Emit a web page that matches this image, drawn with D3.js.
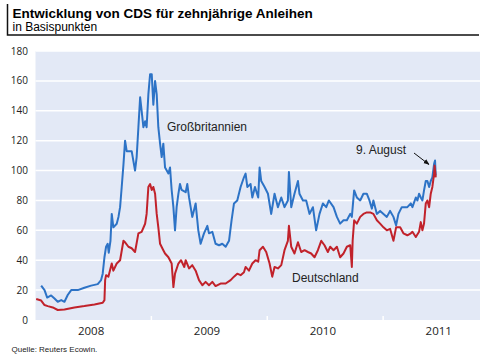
<!DOCTYPE html>
<html>
<head>
<meta charset="utf-8">
<style>
    body { margin: 0; background: #fff; }
    svg { display: block; }
    .title { font-family: 'Liberation Sans', Arial, sans-serif; font-weight: bold; font-size: 13.5px; fill: #000; }
    .subtitle { font-family: 'Liberation Sans', Arial, sans-serif; font-size: 12px; fill: #000; }
    .tick-label { font-family: 'Open Sans', sans-serif; font-size: 10px; fill: #222; }
    .year-label { font-family: 'Open Sans', sans-serif; font-size: 11.5px; fill: #222; }
    .note { font-family: 'Liberation Sans', Arial, sans-serif; font-size: 12px; fill: #222; }
    .source { font-family: 'Liberation Sans', Arial, sans-serif; font-size: 8px; fill: #222; }
</style>
</head>
<body>
<svg width="486" height="354"></svg>

<script src="https://d3js.org/d3.v7.min.js"></script>
<script>

// Großbritannien, decimal years and basis points
let gbYears = [2008.049, 2008.078, 2008.101, 2008.135, 2008.164, 2008.192, 2008.222, 2008.250, 2008.278, 2008.308,
    2008.365, 2008.422, 2008.480, 2008.537, 2008.566, 2008.580, 2008.595, 2008.609, 2008.623, 2008.632,
    2008.647, 2008.658, 2008.672, 2008.701, 2008.716, 2008.730, 2008.744, 2008.759, 2008.773, 2008.787,
    2008.830, 2008.859, 2008.873, 2008.888, 2008.903, 2008.916, 2008.931, 2008.946, 2008.959, 2008.974,
    2008.989, 2009.003, 2009.017, 2009.032, 2009.046, 2009.060, 2009.075, 2009.089, 2009.103, 2009.118,
    2009.147, 2009.161, 2009.175, 2009.190, 2009.204, 2009.218, 2009.233, 2009.247, 2009.261, 2009.296,
    2009.310, 2009.325, 2009.353, 2009.382, 2009.405, 2009.425, 2009.454, 2009.483, 2009.497, 2009.526,
    2009.554, 2009.584, 2009.612, 2009.641, 2009.670, 2009.692, 2009.713, 2009.741, 2009.770, 2009.799,
    2009.813, 2009.828, 2009.856, 2009.871, 2009.894, 2009.922, 2009.934, 2009.948, 2009.977, 2010.006,
    2010.034, 2010.063, 2010.092, 2010.121, 2010.149, 2010.178, 2010.187, 2010.207, 2010.235, 2010.265,
    2010.278, 2010.308, 2010.336, 2010.365, 2010.394, 2010.422, 2010.451, 2010.480, 2010.509, 2010.532,
    2010.572, 2010.601, 2010.629, 2010.658, 2010.687, 2010.716, 2010.730, 2010.750, 2010.773, 2010.802,
    2010.830, 2010.859, 2010.882, 2010.903, 2010.916, 2010.946, 2010.974, 2011.003, 2011.032, 2011.060,
    2011.089, 2011.112, 2011.132, 2011.161, 2011.209, 2011.239, 2011.253, 2011.282, 2011.296, 2011.310,
    2011.325, 2011.339, 2011.353, 2011.368, 2011.382, 2011.397, 2011.411, 2011.425, 2011.440, 2011.448,
    2011.454];
let gbValues = [23, 20, 15, 16.4, 14.4, 12.2, 13.3, 12.2, 16.7, 20,
    20, 21.6, 23, 24, 26.7, 31, 42, 49, 51, 45,
    53, 71, 62, 64.4, 69, 75.5, 89, 104, 120, 113,
    113, 100, 109, 129, 149, 140, 129, 133, 129, 151,
    164.5, 164.5, 144, 160, 151, 129, 118, 109, 118, 102,
    98, 102, 87, 75.5, 60, 75.5, 84.4, 91, 87, 85.5,
    91, 82, 69, 78, 60, 51, 58, 63, 58, 59,
    51, 50, 51, 49, 53, 66.7, 78, 80, 89, 95.5,
    98, 89, 91, 82, 89, 82, 102, 93, 89, 84.5,
    71, 84.5, 75.5, 82, 75.5, 80, 99, 75.5, 84.5, 93,
    84.5, 80, 80, 71, 75.5, 60, 71, 78, 75.5, 80,
    75.5, 69, 64.5, 66.7, 66.7, 71, 69, 86.7, 82, 80,
    84.5, 84.5, 80, 74.5, 80, 71, 73, 71, 69, 73,
    69, 63.3, 71, 75.5, 75.5, 78, 75.5, 82, 80, 84.5,
    82, 80, 86.7, 93, 93, 89, 93, 95.5, 104.5, 106.7,
    96.7];

// Deutschland
let deYears = [2008.006, 2008.049, 2008.078, 2008.106, 2008.149, 2008.192, 2008.250, 2008.336, 2008.422, 2008.509,
    2008.580, 2008.595, 2008.601, 2008.609, 2008.629, 2008.658, 2008.672, 2008.701, 2008.730, 2008.759,
    2008.773, 2008.802, 2008.830, 2008.859, 2008.888, 2008.916, 2008.946, 2008.959, 2008.974, 2008.989,
    2009.003, 2009.017, 2009.032, 2009.046, 2009.060, 2009.075, 2009.103, 2009.118, 2009.147, 2009.175,
    2009.190, 2009.204, 2009.233, 2009.256, 2009.284, 2009.296, 2009.325, 2009.353, 2009.382, 2009.411,
    2009.440, 2009.468, 2009.497, 2009.526, 2009.554, 2009.597, 2009.641, 2009.684, 2009.713, 2009.741,
    2009.770, 2009.799, 2009.813, 2009.842, 2009.871, 2009.899, 2009.922, 2009.934, 2009.963, 2009.991,
    2010.020, 2010.043, 2010.063, 2010.092, 2010.121, 2010.149, 2010.178, 2010.187, 2010.207, 2010.235,
    2010.265, 2010.293, 2010.322, 2010.351, 2010.379, 2010.408, 2010.437, 2010.466, 2010.494, 2010.523,
    2010.543, 2010.572, 2010.601, 2010.629, 2010.658, 2010.687, 2010.716, 2010.730, 2010.737, 2010.750,
    2010.773, 2010.802, 2010.830, 2010.859, 2010.888, 2010.916, 2010.946, 2010.974, 2011.003, 2011.032,
    2011.060, 2011.089, 2011.112, 2011.147, 2011.175, 2011.209, 2011.239, 2011.253, 2011.282, 2011.310,
    2011.325, 2011.339, 2011.353, 2011.368, 2011.382, 2011.397, 2011.411, 2011.425, 2011.440, 2011.444,
    2011.454];
let deValues = [14, 13, 10, 9.3, 8.4, 6.7, 7, 8.4, 9.3, 10.4,
    11.5, 13.3, 26.7, 30, 29, 37.8, 33, 37.8, 40, 53,
    52, 49, 48, 45.5, 58, 59, 64.4, 71, 89, 91,
    87, 89, 84.5, 71, 62, 51, 46.7, 44.5, 42, 37.8,
    22, 31, 37.8, 40, 35.5, 40, 34.5, 36.7, 33, 26.7,
    23.3, 25.5, 23.3, 25.5, 22.7, 24.4, 24.4, 26.7, 29, 31,
    30, 32, 35.5, 33, 37.8, 40, 39, 46.7, 49, 45.5,
    37.8, 29, 35.5, 34.5, 36.7, 46.7, 53, 63, 49, 44.5,
    52, 45.5, 46.7, 45.5, 44.5, 42, 46.7, 53, 50, 45.5,
    49, 46.7, 49, 42, 44.5, 49, 50, 35.5, 53, 66.7,
    64.5, 69, 71, 72, 72, 71, 66.7, 64.5, 62, 60,
    61, 53, 62, 62, 58, 56.7, 58, 59, 55.5, 59,
    65.5, 60, 64.5, 78, 80, 75.5, 84.5, 89, 98, 103.3,
    95.5];

let yTicks = [0, 20, 40, 60, 80, 100, 120, 140, 160, 180];
let yearTicks = [2009, 2010, 2011];
let yearLabels = ["2008", "2009", "2010", "2011"];

let svg = d3.select("svg");

let x = d3.scaleLinear()
    .domain([2008, 2011.836])
    .range([35.5, 480]);

let y = d3.scaleLinear()
    .domain([0, 180])
    .range([320, 51]);

// header with the black corner line
svg.append("path")
    .attr("d", "M7.5,4 V35 H479")
    .style("fill", "none")
    .style("stroke", "#111")
    .style("stroke-width", 1.5);

svg.append("text").attr("class", "title")
    .attr("x", 12.5).attr("y", 17.5)
    .text("Entwicklung von CDS für zehnjährige Anleihen");

svg.append("text").attr("class", "subtitle")
    .attr("x", 12.5).attr("y", 31)
    .text("in Basispunkten");

// plot background
svg.append("rect")
    .attr("x", x(2008))
    .attr("y", y(180))
    .attr("width", x(2011.836) - x(2008))
    .attr("height", y(0) - y(180))
    .style("fill", "#e3e9f6");

svg.selectAll(".grid")
    .data(yTicks.filter(d => d > 0))
    .join("line")
    .attr("class", "grid")
    .attr("x1", x(2008)).attr("x2", x(2011.836))
    .attr("y1", d => y(d)).attr("y2", d => y(d))
    .style("stroke", "#fff")
    .style("stroke-width", 1.5);

svg.selectAll(".ylab")
    .data(yTicks)
    .join("text")
    .attr("class", "tick-label ylab")
    .attr("x", 28)
    .attr("y", d => y(d))
    .attr("dy", "0.35em")
    .attr("text-anchor", "end")
    .text(d => d);

// year separators at the bottom
svg.selectAll(".ytick")
    .data(yearTicks)
    .join("line")
    .attr("class", "ytick")
    .attr("x1", d => x(d)).attr("x2", d => x(d))
    .attr("y1", y(0) - 4).attr("y2", y(0))
    .style("stroke", "#fff")
    .style("stroke-width", 1.5);

svg.selectAll(".xlab")
    .data(yearLabels)
    .join("text")
    .attr("class", "year-label xlab")
    .attr("x", d => x(+d + 0.48))
    .attr("y", 335)
    .attr("text-anchor", "middle")
    .text(d => d);

let line = d3.line()
    .x(d => x(d[0]))
    .y(d => y(d[1]));

svg.append("path")
    .datum(d3.zip(gbYears, gbValues))
    .attr("d", line)
    .style("fill", "none")
    .style("stroke", "#2d73c6")
    .style("stroke-width", 2)
    .style("stroke-linejoin", "round");

svg.append("path")
    .datum(d3.zip(deYears, deValues))
    .attr("d", line)
    .style("fill", "none")
    .style("stroke", "#c1222b")
    .style("stroke-width", 2)
    .style("stroke-linejoin", "round");

// labels
svg.append("text").attr("class", "note")
    .attr("x", 167).attr("y", 131)
    .text("Großbritannien");

svg.append("text").attr("class", "note")
    .attr("x", 292).attr("y", 281.5)
    .text("Deutschland");

svg.append("text").attr("class", "note")
    .attr("x", 356).attr("y", 154)
    .text("9. August");

svg.append("defs").append("marker")
    .attr("id", "head")
    .attr("viewBox", "0 0 10 10")
    .attr("refX", 9).attr("refY", 5)
    .attr("markerWidth", 6).attr("markerHeight", 6)
    .attr("orient", "auto")
    .append("path")
    .attr("d", "M0,1 L10,5 L0,9 Z")
    .style("fill", "#111");

svg.append("line")
    .attr("x1", 414).attr("y1", 153)
    .attr("x2", 429).attr("y2", 164.5)
    .style("stroke", "#111")
    .style("stroke-width", 1)
    .attr("marker-end", "url(#head)");

svg.append("text").attr("class", "source")
    .attr("x", 11.5).attr("y", 352)
    .text("Quelle: Reuters Ecowin.");

</script>
</body>
</html>
